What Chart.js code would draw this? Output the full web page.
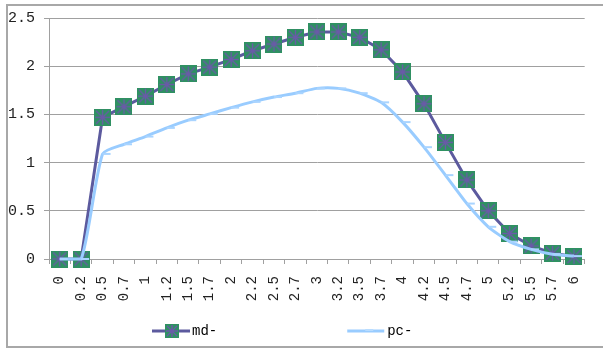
<!DOCTYPE html>
<html>
<head>
<meta charset="utf-8">
<script src="https://cdn.jsdelivr.net/npm/chart.js@4.4.0/dist/chart.umd.min.js"></script>
<style>
  html, body { margin: 0; padding: 0; background: #fff; overflow: hidden; }
  #frame { position: absolute; left: 6px; top: 4px; width: 700px; height: 340px;
           border-left: 2px solid #a8a8a8; border-top: 2px solid #a8a8a8; border-bottom: 2px solid #a8a8a8; }
  #wrap { position: absolute; left: 0; top: 0; width: 603px; height: 349px; }
</style>
</head>
<body>
<div id="frame"></div>
<div id="wrap"><canvas id="c" width="603" height="349"></canvas></div>
<script>
const categories = ['0','0.2','0.5','0.7','1','1.2','1.5','1.7','2','2.2','2.5','2.7','3','3.2','3.5','3.7','4','4.2','4.5','4.7','5','5.2','5.5','5.7','6'];
const mdValues = [0,0,1.47,1.58,1.69,1.81,1.92,1.99,2.07,2.16,2.23,2.30,2.355,2.355,2.30,2.17,1.94,1.61,1.21,0.82,0.50,0.265,0.135,0.06,0.025];
const pcValues = [0,0,1.09,1.19,1.27,1.36,1.44,1.505,1.57,1.63,1.68,1.72,1.77,1.77,1.72,1.625,1.42,1.16,0.87,0.575,0.334,0.18,0.10,0.05,0.03];
const yTicks = [0, 0.5, 1, 1.5, 2, 2.5];
const seriesNames = ['md-', 'pc-'];

const MD_LINE = '#5c5a9e';
const MD_FILL = '#2f9162';
const MD_STAR = '#6a5aa8';
const PC_LINE = '#99ccff';
const GRID = '#a0a0a0';
const FONT = '"Liberation Mono", "DejaVu Sans Mono", monospace';

function drawStarSquare(ctx, cx, cy, s) {
  ctx.fillStyle = MD_FILL;
  ctx.fillRect(cx - s / 2, cy - s / 2, s, s);
  ctx.strokeStyle = MD_STAR;
  ctx.lineWidth = 1.4;
  const r = s / 2 - 2;
  ctx.beginPath();
  ctx.moveTo(cx - r, cy - r); ctx.lineTo(cx + r, cy + r);
  ctx.moveTo(cx + r, cy - r); ctx.lineTo(cx - r, cy + r);
  ctx.moveTo(cx, cy - r - 1); ctx.lineTo(cx, cy + r + 1);
  ctx.moveTo(cx - r - 1, cy); ctx.lineTo(cx + r + 1, cy);
  ctx.stroke();
}

const mdPoint = document.createElement('canvas');
mdPoint.width = 17; mdPoint.height = 17;
drawStarSquare(mdPoint.getContext('2d'), 8.5, 8.5, 17);

const PSW = 153;
function legendCanvas(kind) {
  const c = document.createElement('canvas');
  c.width = PSW + 10; c.height = 14;
  const g = c.getContext('2d');
  const x0 = 125, x1 = 163, cy = 7;
  if (kind === 'md') {
    g.strokeStyle = MD_LINE; g.lineWidth = 3;
    g.beginPath(); g.moveTo(x0, cy); g.lineTo(x1, cy); g.stroke();
    drawStarSquare(g, 145, cy, 14);
  } else {
    g.strokeStyle = PC_LINE; g.lineWidth = 3;
    g.beginPath(); g.moveTo(x0, cy); g.lineTo(x1 - 1, cy); g.stroke();
    g.strokeStyle = '#b8dcff'; g.lineWidth = 2;
    g.beginPath(); g.moveTo(143, cy - 1); g.lineTo(151, cy - 1); g.stroke();
  }
  return c;
}
const legMd = legendCanvas('md');
const legPc = legendCanvas('pc');

const legendShift = {
  id: 'legendShift',
  afterLayout(chart) { if (chart.legend) { chart.legend.left += 17; } }
};

new Chart(document.getElementById('c'), {
  type: 'line',
  data: {
    labels: categories,
    datasets: [
      {
        label: seriesNames[0], data: mdValues, order: 1,
        borderColor: MD_LINE, borderWidth: 3, tension: 0,
        pointStyle: mdPoint, pointRadius: 9, pointHoverRadius: 9, clip: false
      },
      {
        label: seriesNames[1], data: pcValues, order: 0,
        borderColor: PC_LINE, borderWidth: 3, tension: 0.2,
        pointStyle: 'dash', pointRadius: 8, pointBorderWidth: 2,
        pointBorderColor: '#a9d4ff', pointHoverRadius: 8, clip: false
      }
    ]
  },
  plugins: [legendShift],
  options: {
    responsive: false,
    animation: false,
    events: [],
    layout: { padding: { left: 5, right: 10, top: 17, bottom: 1 } },
    plugins: {
      tooltip: { enabled: false },
      legend: {
        position: 'bottom',
        align: 'start',
        labels: {
          usePointStyle: true,
          pointStyleWidth: PSW,
          padding: 10,
          color: '#222',
          font: { family: FONT, size: 14 },
          generateLabels: () => [
            { text: seriesNames[0], pointStyle: legMd, datasetIndex: 0, lineWidth: 0, strokeStyle: 'rgba(0,0,0,0)', fillStyle: 'rgba(0,0,0,0)', hidden: false },
            { text: seriesNames[1], pointStyle: legPc, datasetIndex: 1, lineWidth: 0, strokeStyle: 'rgba(0,0,0,0)', fillStyle: 'rgba(0,0,0,0)', hidden: false }
          ]
        }
      }
    },
    scales: {
      x: {
        offset: true,
        afterFit: (s) => { s.height = 55; },
        grid: { offset: true, drawOnChartArea: false, tickLength: 5, color: GRID, lineWidth: 1 },
        border: { color: GRID, width: 1 },
        ticks: {
          autoSkip: false, minRotation: 90, maxRotation: 90, padding: 12,
          color: '#222', font: { family: FONT, size: 14 }
        }
      },
      y: {
        min: yTicks[0], max: yTicks[yTicks.length - 1],
        afterFit: (s) => { s.width = 44; },
        afterBuildTicks: (s) => { s.ticks = yTicks.map(v => ({ value: v })); },
        grid: { color: GRID, lineWidth: 1, tickLength: 5 },
        border: { color: GRID, width: 1 },
        ticks: { padding: 9, color: '#222', font: { family: FONT, size: 15 },
                 callback: (v) => String(v) }
      }
    }
  }
});
</script>
</body>
</html>
